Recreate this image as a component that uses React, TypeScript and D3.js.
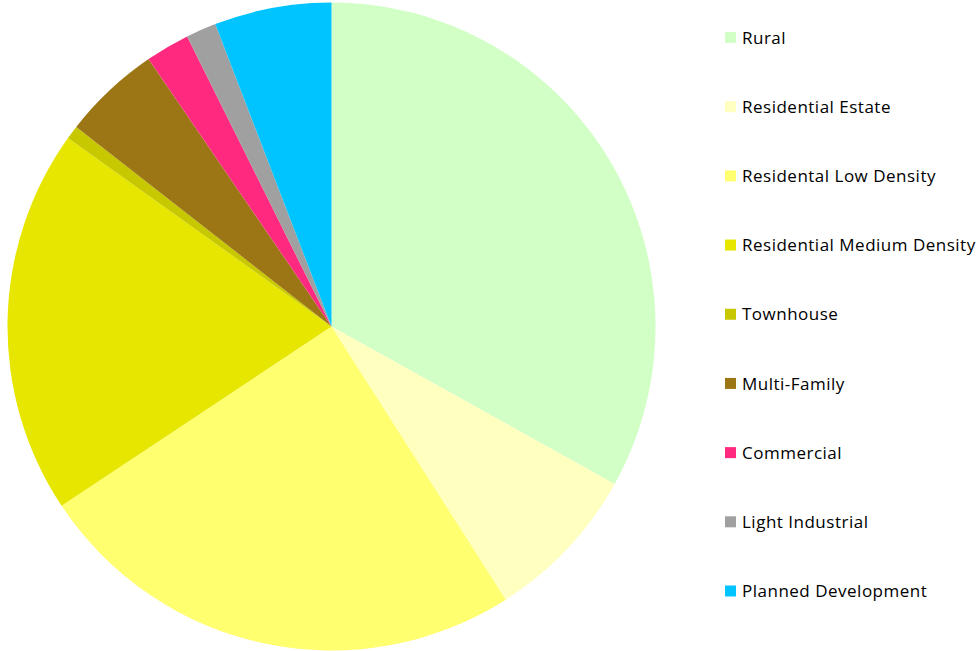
import React from "react";
import * as d3 from "d3";

const categories = [
  "Rural",
  "Residential Estate",
  "Residental Low Density",
  "Residential Medium Density",
  "Townhouse",
  "Multi-Family",
  "Commercial",
  "Light Industrial",
  "Planned Development",
];
const values = [33.08, 7.88, 24.71, 19.21, 0.68, 4.89, 2.2, 1.51, 5.84];
const colors = [
  "#D2FFC6",
  "#FFFFC0",
  "#FFFF70",
  "#E6E600",
  "#C8C800",
  "#9C7614",
  "#FF2A80",
  "#A0A0A0",
  "#00C4FF",
];

const W = 979;
const H = 651;

export default function App() {
  const cx = 331.5;
  const cy = 326.5;
  const r = 324;
  const pie = d3.pie<number>().sort(null).value((d) => d);
  const arcs = pie(values);
  const arcGen = d3.arc<d3.PieArcDatum<number>>().innerRadius(0).outerRadius(r);
  const legendY = d3.scalePoint<string>().domain(categories).range([37.5, 591]);
  return (
    <svg
      width={W}
      height={H}
      style={{ position: "absolute", left: 0, top: 0, background: "#fff" }}
    >
      <g transform={`translate(${cx},${cy})`}>
        {arcs.map((a, i) => (
          <path key={i} d={arcGen(a) || ""} fill={colors[i]} />
        ))}
      </g>
      <g fontFamily="'Open Sans', sans-serif" fontSize={17} letterSpacing={0.5} fill="#000">
        {categories.map((c, i) => {
          const y = legendY(c) as number;
          return (
            <g key={c}>
              <rect x={725} y={y - 5.5} width={11} height={11} fill={colors[i]} />
              <text x={742} y={y} dy="0.36em">
                {c}
              </text>
            </g>
          );
        })}
      </g>
    </svg>
  );
}
